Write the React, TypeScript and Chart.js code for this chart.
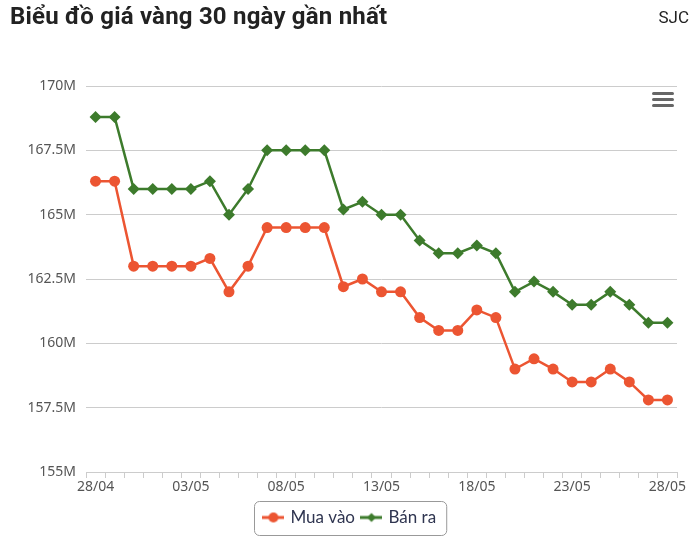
import React, { useEffect, useRef } from 'react';
import { Chart, registerables } from 'chart.js';

Chart.register(...registerables);

const labels = [
  '28/04', '29/04', '30/04', '01/05', '02/05', '03/05', '04/05', '05/05', '06/05', '07/05',
  '08/05', '09/05', '10/05', '11/05', '12/05', '13/05', '14/05', '15/05', '16/05', '17/05',
  '18/05', '19/05', '20/05', '21/05', '22/05', '23/05', '24/05', '25/05', '26/05', '27/05', '28/05',
];

const muaVao = [
  166.3, 166.3, 163.0, 163.0, 163.0, 163.0, 163.3, 162.0, 163.0, 164.5,
  164.5, 164.5, 164.5, 162.2, 162.5, 162.0, 162.0, 161.0, 160.5, 160.5,
  161.3, 161.0, 159.0, 159.4, 159.0, 158.5, 158.5, 159.0, 158.5, 157.8, 157.8,
];

const banRa = [
  168.8, 168.8, 166.0, 166.0, 166.0, 166.0, 166.3, 165.0, 166.0, 167.5,
  167.5, 167.5, 167.5, 165.2, 165.5, 165.0, 165.0, 164.0, 163.5, 163.5,
  163.8, 163.5, 162.0, 162.4, 162.0, 161.5, 161.5, 162.0, 161.5, 160.8, 160.8,
];

const RED = '#ec5532';
const GREEN = '#3d7b2c';

// small canvas with a line through the marker, used as legend symbol
function legendSymbol(color: string, shape: 'circle' | 'diamond') {
  const c = document.createElement('canvas');
  const dpr = window.devicePixelRatio || 1;
  c.width = 22 * dpr;
  c.height = 12 * dpr;
  c.style.width = '22px';
  c.style.height = '12px';
  const ctx = c.getContext('2d')!;
  ctx.scale(dpr, dpr);
  ctx.strokeStyle = color;
  ctx.fillStyle = color;
  ctx.lineWidth = 3;
  ctx.beginPath();
  ctx.moveTo(0, 6);
  ctx.lineTo(22, 6);
  ctx.stroke();
  ctx.beginPath();
  if (shape === 'circle') {
    ctx.arc(11, 6, 5, 0, Math.PI * 2);
  } else {
    ctx.moveTo(11, 1.5);
    ctx.lineTo(15.5, 6);
    ctx.lineTo(11, 10.5);
    ctx.lineTo(6.5, 6);
    ctx.closePath();
  }
  ctx.fill();
  return c;
}

// legend is centred on the whole page, not only on the plot width
const legendShift = {
  id: 'legendShift',
  afterLayout(chart: any) {
    const lg = chart.legend;
    if (!lg) return;
    lg.left += 12;
    lg.right += 12;
  },
};

const legendBorder = {
  id: 'legendBorder',
  afterDraw(chart: any) {
    const lg = chart.legend;
    if (!lg || !lg.legendHitBoxes || !lg.legendHitBoxes.length) return;
    const boxes = lg.legendHitBoxes;
    const left = Math.min(...boxes.map((b: any) => b.left)) - 11;
    const right = Math.max(...boxes.map((b: any) => b.left + b.width)) + 10;
    const top = lg.top + 0.5;
    const h = lg.height - 1;
    const ctx = chart.ctx;
    ctx.save();
    ctx.strokeStyle = '#999';
    ctx.lineWidth = 1;
    ctx.beginPath();
    ctx.roundRect(Math.round(left) + 0.5, top, right - left, h, 5);
    ctx.stroke();
    ctx.restore();
  },
};

const LineChart: React.FC = () => {
  const ref = useRef<HTMLCanvasElement>(null);

  useEffect(() => {
    const ctx = ref.current?.getContext('2d');
    if (!ctx) return;
    const symbols = [legendSymbol(RED, 'circle'), legendSymbol(GREEN, 'diamond')];

    const chart = new Chart(ctx, {
      type: 'line',
      data: {
        labels,
        datasets: [
          {
            label: 'Mua vào',
            data: muaVao,
            borderColor: RED,
            backgroundColor: RED,
            borderWidth: 2.5,
            pointStyle: 'circle',
            pointRadius: 5.5,
            pointBorderWidth: 0,
          },
          {
            label: 'Bán ra',
            data: banRa,
            borderColor: GREEN,
            backgroundColor: GREEN,
            borderWidth: 2.5,
            pointStyle: 'rectRot',
            pointRadius: 6,
            pointBorderWidth: 0,
          },
        ],
      },
      options: {
        animation: false,
        responsive: true,
        maintainAspectRatio: false,
        layout: { padding: { top: 86, right: 23, bottom: 12, left: 0 } },
        plugins: {
          tooltip: { enabled: false },
          legend: {
            position: 'bottom',
            labels: {
              usePointStyle: true,
              boxWidth: 22,
              boxHeight: 12,
              padding: 8,
              color: '#2f3550',
              font: { family: 'Lato', size: 17 },
              generateLabels: (ch: any) =>
                Chart.defaults.plugins.legend.labels.generateLabels(ch).map((l: any, i: number) => ({
                  ...l,
                  pointStyle: symbols[i],
                })),
            },
          },
        },
        scales: {
          x: {
            offset: true,
            grid: {
              offset: true,
              drawOnChartArea: false,
              drawTicks: true,
              tickLength: 6,
              color: '#ccc',
            },
            border: { display: true, color: '#ccc' },
            ticks: {
              autoSkip: false,
              maxRotation: 0,
              padding: 1,
              color: '#555',
              font: { family: 'Noto Sans', size: 14 },
              callback: (_v: any, i: number) => (i % 5 === 0 ? labels[i] : ''),
            },
            afterFit: (s: any) => {
              s.height = 29;
            },
          },
          y: {
            min: 155,
            max: 170,
            grid: { color: '#ccc', drawTicks: false },
            border: { display: false },
            ticks: {
              stepSize: 2.5,
              padding: 10,
              color: '#555',
              font: { family: 'Noto Sans', size: 14 },
              callback: (v: any) => `${v}M`,
            },
            afterFit: (s: any) => {
              s.width = 86;
            },
          },
        },
      },
      plugins: [legendShift, legendBorder],
    });
    return () => chart.destroy();
  }, []);

  return (
    <div style={{ position: 'absolute', left: 0, top: 0, width: 700, height: 548 }}>
      <canvas ref={ref}></canvas>
    </div>
  );
};

export default function App() {
  const bar: React.CSSProperties = {
    height: 3,
    background: '#666',
    borderRadius: 2,
    marginBottom: 3,
  };
  return (
    <div style={{ position: 'relative', width: 700, height: 548, background: '#fff', overflow: 'hidden' }}>
      <style>{'body{margin:0}'}</style>
      <LineChart />
      <div
        style={{
          position: 'absolute',
          left: 10,
          top: 2,
          fontFamily: 'Roboto',
          fontWeight: 700,
          fontSize: 24,
          letterSpacing: 0.2,
          color: '#222',
        }}
      >
        Biểu đồ giá vàng 30 ngày gần nhất
      </div>
      <div
        style={{
          position: 'absolute',
          right: 11,
          top: 7,
          fontFamily: 'Roboto',
          fontSize: 17,
          color: '#222',
        }}
      >
        SJC
      </div>
      <div style={{ position: 'absolute', left: 652, top: 92, width: 22 }}>
        <div style={bar} />
        <div style={bar} />
        <div style={bar} />
      </div>
    </div>
  );
}
